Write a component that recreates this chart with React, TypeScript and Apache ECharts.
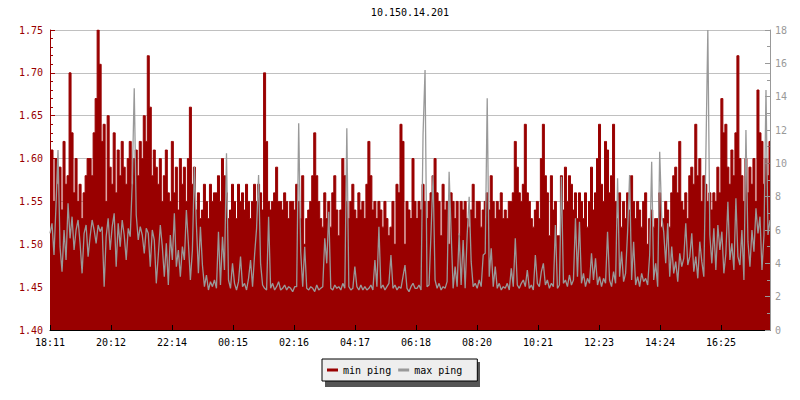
import React, { useEffect, useRef } from "react";
import * as echarts from "echarts";

const chartTitle = "10.150.14.201";
const xLabels = ["18:11", "20:12", "22:14", "00:15", "02:16", "04:17", "06:18", "08:20", "10:21", "12:23", "14:24", "16:25"];

const minPing = [
  1.58,1.61,1.55,1.60,1.57,1.59,1.54,1.62,1.57,1.58,
  1.70,1.63,1.56,1.60,1.55,1.57,1.53,1.56,1.58,1.60,
  1.60,1.58,1.63,1.67,1.75,1.71,1.62,1.64,1.55,1.65,
  1.59,1.57,1.63,1.56,1.61,1.58,1.62,1.59,1.57,1.60,
  1.62,1.57,1.60,1.61,1.58,1.62,1.60,1.65,1.62,1.72,
  1.66,1.58,1.61,1.59,1.57,1.60,1.55,1.58,1.61,1.56,
  1.55,1.62,1.56,1.59,1.54,1.60,1.57,1.59,1.55,1.60,
  1.66,1.57,1.59,1.54,1.56,1.53,1.54,1.57,1.55,1.53,
  1.57,1.55,1.56,1.56,1.58,1.55,1.60,1.58,1.56,1.53,
  1.54,1.57,1.55,1.53,1.57,1.55,1.56,1.54,1.57,1.55,
  1.53,1.55,1.57,1.55,1.57,1.56,1.54,1.70,1.62,1.55,
  1.54,1.55,1.56,1.59,1.55,1.55,1.54,1.56,1.55,1.53,
  1.55,1.55,1.54,
  1.57,1.55,1.53,1.58,1.50,1.53,1.54,1.55,1.58,1.63,
  1.58,1.55,1.53,1.52,1.56,1.53,1.55,1.52,1.56,1.58,
  1.54,1.51,1.54,1.60,1.58,1.55,1.53,1.55,1.57,1.54,
  1.53,1.56,1.54,1.55,1.53,1.57,1.62,1.58,1.54,1.55,
  1.53,1.55,1.54,1.52,1.55,1.53,1.51,1.52,1.55,1.50,
  1.57,1.56,1.64,1.62,1.50,1.55,1.54,1.53,1.60,1.55,
  1.53,1.55,1.54,1.57,1.55,1.53,1.55,1.56,1.58,1.60,
  1.56,1.55,1.51,1.57,1.54,1.55,1.50,1.56,1.55,1.53,
  1.55,1.51,1.55,1.54,1.55,1.53,1.52,1.54,1.57,1.53,
  1.55,1.55,1.52,1.54,1.55,1.56,1.54,1.58,1.55,1.53,
  1.55,1.54,1.56,1.53,1.54,1.53,1.55,1.55,1.56,1.62,
  1.59,1.56,1.55,1.57,1.64,1.56,1.55,1.53,1.52,1.54,
  1.55,1.53,1.60,1.64,1.58,1.56,1.51,1.58,1.54,1.55,
  1.51,1.51,1.58,1.54,1.59,1.55,1.58,1.57,1.54,1.56,
  1.53,1.56,1.55,1.53,1.56,1.52,1.55,1.59,1.54,1.56,
  1.60,1.64,1.57,1.55,1.62,1.61,1.56,1.58,1.64,1.55,
  1.53,1.56,1.52,1.55,1.53,1.56,1.54,1.58,1.55,1.53,
  1.55,1.54,1.52,1.55,1.56,1.50,1.53,1.54,1.52,1.53,
  1.53,1.56,1.52,1.53,1.55,1.54,1.52,1.56,1.58,1.59,
  1.56,1.62,1.55,1.54,1.56,1.53,1.58,1.59,1.57,1.64,
  1.58,1.60,1.55,1.58,1.57,1.55,1.56,1.54,1.56,1.55,
  1.59,1.56,1.67,1.63,1.64,1.59,1.57,1.61,1.58,1.63,
  1.72,1.60,1.58,1.55,1.60,1.56,1.59,1.57,1.60,1.55,
  1.68,1.63,1.62,1.57,1.60,1.58,1.62,
];

const maxPing = [
  5.8,6.4,4.5,7.5,10.8,5.0,3.5,6.0,4.2,7.6,
  5.5,6.8,4.8,6.0,6.6,5.2,3.4,5.8,6.3,4.4,
  5.6,6.6,6.0,5.2,6.3,5.9,6.2,2.6,5.6,6.7,
  4.8,6.2,7.0,3.8,6.4,5.0,6.6,5.7,4.2,6.1,
  5.6,8.8,14.5,6.9,5.4,6.2,5.7,4.6,6.1,5.8,
  3.8,6.0,5.4,2.8,4.5,6.3,5.0,3.2,5.2,2.7,
  5.7,4.2,7.0,3.8,4.8,3.2,5.0,4.2,7.2,5.2,
  3.0,4.8,9.8,6.3,3.4,6.2,3.9,2.6,3.3,2.4,
  2.9,2.6,3.0,2.5,5.9,2.7,5.6,3.6,10.6,3.0,
  2.5,4.0,2.8,2.4,2.9,4.4,2.6,2.8,2.4,3.1,
  4.2,2.6,4.5,6.1,9.3,4.0,2.7,2.5,2.4,6.8,
  2.5,2.8,2.4,2.6,2.9,2.4,2.5,2.7,2.4,2.6,
  2.5,2.3,2.6,
  2.6,12.4,4.7,2.6,5.0,2.5,2.4,2.6,2.5,2.3,
  2.7,2.4,2.5,2.6,5.5,4.0,7.1,2.5,2.4,2.7,
  2.5,2.6,2.4,2.8,2.5,12.1,2.6,2.4,2.5,3.8,
  2.6,2.4,2.7,2.4,2.6,2.4,2.5,2.7,2.4,4.2,
  2.6,6.2,2.5,2.7,2.4,2.6,2.8,4.5,2.5,2.7,
  2.4,2.6,2.5,3.2,3.9,2.5,2.3,2.6,2.8,2.5,
  2.5,2.7,2.4,11.7,15.6,2.6,2.7,5.9,9.3,3.0,
  2.5,2.8,2.4,2.6,2.5,2.9,9.5,5.9,2.5,3.8,
  2.6,5.8,2.7,5.4,2.5,5.7,8.0,4.1,2.6,2.8,
  2.5,3.0,2.6,4.5,4.6,13.9,3.2,4.9,2.6,3.8,
  2.5,2.8,2.4,2.6,2.5,2.8,2.4,3.7,2.6,5.5,
  2.7,2.5,2.8,3.0,2.6,3.6,2.5,2.7,2.4,4.5,
  2.8,2.6,3.5,4.0,2.7,3.0,2.5,2.8,2.6,6.3,
  2.5,2.7,9.2,2.8,3.0,2.6,3.3,2.7,3.0,6.7,
  3.2,6.5,2.8,3.4,2.6,3.1,2.8,4.6,3.0,4.3,
  2.7,3.2,2.6,3.1,2.8,5.9,3.0,2.6,3.5,2.8,
  9.1,3.2,4.7,2.9,3.4,5.9,9.3,3.0,5.3,2.7,
  3.2,2.6,3.4,2.9,3.1,2.7,4.5,10.1,3.0,4.0,
  2.6,10.7,6.8,5.9,4.0,6.4,3.2,5.0,3.4,4.1,
  2.9,4.6,3.8,4.3,6.4,3.9,4.4,5.8,3.5,4.4,
  3.1,5.3,4.1,3.2,10.3,18.0,5.7,4.0,6.1,3.6,
  6.3,4.8,5.9,3.4,4.6,7.7,4.2,5.2,3.6,7.9,
  4.4,3.9,6.0,3.0,12.0,5.3,3.8,6.0,4.7,7.3,
  5.8,6.8,3.6,5.7,14.4,5.7,6.6,
];

const RED = "#990000";
const GRAY = "#999999";
const FONT = "DejaVu Sans Mono";

export default function App() {
  const ref = useRef<HTMLDivElement>(null);
  useEffect(() => {
    if (!ref.current) return;
    const chart = echarts.init(ref.current, null, { renderer: "svg" });
    const lastIdx = minPing.length - 1;
    // label ticks every ~30.4 samples (2 h 01 min)
    const tickEvery = (lastIdx * 671) / 720 / (xLabels.length - 1);
    chart.setOption({
      animation: false,
      backgroundColor: "#ffffff",
      title: {
        text: chartTitle,
        left: 410,
        textAlign: "center",
        top: 7,
        padding: 0,
        textStyle: { fontFamily: FONT, fontSize: 10, fontWeight: "normal", color: "#000" },
      },
      legend: {
        left: 322,
        top: 359,
        padding: [6, 15, 6, 5],
        itemGap: 7,
        itemWidth: 11,
        itemHeight: 3,
        icon: "rect",
        backgroundColor: "#eeeeee",
        borderColor: "#000000",
        borderWidth: 1,
        borderRadius: 0,
        z: 5,
        textStyle: { fontFamily: FONT, fontSize: 10, color: "#000" },
        data: ["min ping", "max ping"],
      },
      graphic: [
        { type: "rect", left: 325, top: 362, z: 1, shape: { width: 155, height: 25 }, style: { fill: "#555555" } },
      ],
      grid: { left: 50, right: 30, top: 30, bottom: 70, containLabel: false },
      xAxis: {
        type: "value",
        min: 0,
        max: lastIdx,
        interval: tickEvery,
        z: 3,
        axisLine: { show: true, onZero: false, lineStyle: { color: "#000", width: 1 } },
        axisTick: { show: true, inside: true, length: 5, lineStyle: { color: "#000" } },
        splitLine: { show: false },
        axisLabel: {
          color: "#000",
          fontFamily: FONT,
          fontSize: 10,
          margin: 7,
          showMaxLabel: false,
          formatter: (v: number) => {
            const k = Math.round(v / tickEvery);
            return Math.abs(v - k * tickEvery) < 0.01 && k < xLabels.length ? xLabels[k] : "";
          },
        },
      },
      yAxis: [
        {
          type: "value",
          min: 1.4,
          max: 1.75,
          interval: 0.05,
          position: "left",
          axisLine: { show: true, lineStyle: { color: RED, width: 1 } },
          axisTick: { show: true, inside: true, length: 5, lineStyle: { color: RED } },
          minorTick: { show: true, splitNumber: 5, length: 3, lineStyle: { color: RED } },
          splitLine: { show: true, lineStyle: { color: "#c0c0c0", width: 1 } },
          axisLabel: { color: RED, fontFamily: FONT, fontSize: 10, margin: 7, formatter: (v: number) => v.toFixed(2) },
        },
        {
          type: "value",
          min: 0,
          max: 18,
          interval: 2,
          position: "right",
          z: 3,
          axisLine: { show: true, lineStyle: { color: GRAY, width: 1 } },
          axisTick: { show: true, inside: true, length: 5, lineStyle: { color: GRAY } },
          minorTick: { show: true, splitNumber: 2, length: 3, lineStyle: { color: GRAY } },
          splitLine: { show: false },
          axisLabel: { color: GRAY, fontFamily: FONT, fontSize: 10, margin: 5 },
        },
      ],
      series: [
        {
          name: "min ping",
          type: "line",
          yAxisIndex: 0,
          step: "middle",
          symbol: "none",
          color: RED,
          lineStyle: { color: RED, width: 1 },
          areaStyle: { color: RED, opacity: 1, origin: "start" },
          data: minPing.map((v, i) => [i, v]),
        },
        {
          name: "max ping",
          type: "line",
          yAxisIndex: 1,
          symbol: "none",
          color: GRAY,
          lineStyle: { color: GRAY, width: 1.3 },
          data: maxPing.map((v, i) => [i, v]),
        },
      ],
    });
    return () => chart.dispose();
  }, []);
  return <div ref={ref} style={{ position: "fixed", left: 0, top: 0, width: 800, height: 400 }} />;
}
